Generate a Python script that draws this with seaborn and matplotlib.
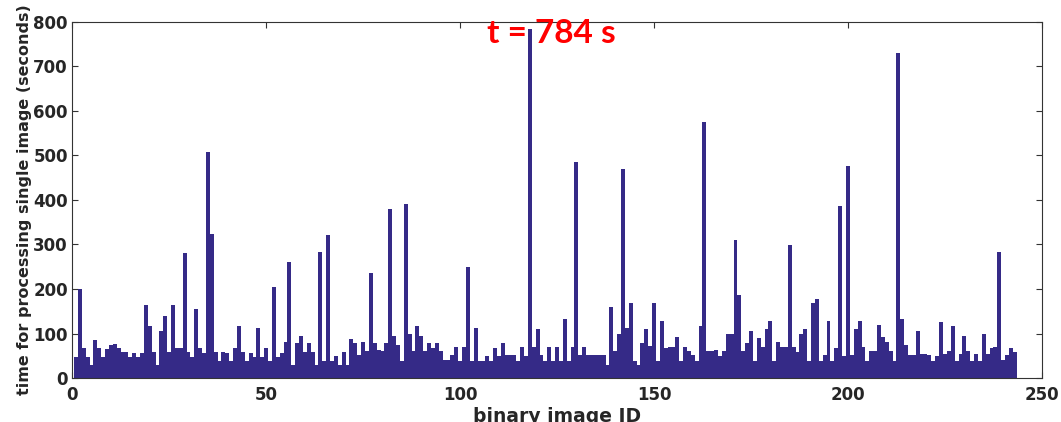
import matplotlib
matplotlib.use('Agg')
import matplotlib.pyplot as plt
import seaborn as sns
import pandas as pd

# processing time per binary image (seconds)
times = [47, 200, 67, 47, 29, 86, 67, 47, 65, 75,
         77, 67, 58, 58, 48, 57, 48, 57, 165, 116,
         58, 29, 106, 140, 58, 165, 67, 67, 281, 58,
         48, 155, 67, 57, 507, 324, 58, 39, 58, 57,
         39, 68, 116, 58, 39, 57, 48, 112, 48, 68,
         39, 205, 48, 57, 80, 260, 29, 78, 95, 58,
         79, 58, 30, 284, 39, 320, 39, 49, 30, 58,
         30, 88, 79, 52, 80, 60, 236, 79, 64, 60,
         79, 380, 94, 75, 39, 390, 100, 60, 118, 94,
         60, 79, 67, 79, 60, 41, 41, 52, 70, 39,
         70, 250, 39, 112, 39, 39, 50, 39, 67, 50,
         79, 52, 52, 52, 39, 70, 50, 784, 70, 110,
         52, 39, 70, 39, 70, 39, 133, 39, 70, 484,
         52, 70, 52, 52, 52, 52, 52, 30, 160, 60,
         98, 469, 113, 168, 39, 30, 79, 110, 72, 168,
         39, 128, 67, 70, 70, 92, 39, 70, 60, 52,
         39, 117, 574, 60, 60, 62, 50, 60, 100, 98,
         310, 187, 60, 79, 106, 39, 90, 69, 110, 128,
         39, 81, 70, 70, 298, 70, 58, 100, 110, 39,
         168, 178, 39, 52, 128, 39, 67, 387, 50, 475,
         52, 110, 128, 70, 39, 60, 60, 120, 92, 81,
         60, 39, 730, 133, 74, 52, 52, 106, 55, 54,
         52, 39, 50, 125, 55, 60, 118, 39, 55, 95,
         60, 39, 55, 39, 100, 55, 67, 70, 282, 41,
         52, 67, 58]
image_ids = list(range(1, len(times) + 1))
x_ticks = [0, 50, 100, 150, 200, 250]
y_ticks = [0, 100, 200, 300, 400, 500, 600, 700, 800]

df = pd.DataFrame({'image_id': image_ids, 'seconds': times})

sns.set_style('ticks')
plt.rcParams['font.family'] = ['DejaVu Sans']

fig = plt.figure(figsize=(10.61, 4.22), dpi=100)
ax = fig.add_axes([0.068, 0.104, 0.914, 0.845])

sns.barplot(data=df, x='image_id', y='seconds', native_scale=True, width=1,
            color='#352A87', saturation=1, errorbar=None,
            edgecolor='none', linewidth=0, ax=ax)

ax.set_xlim(0, 250)
ax.set_ylim(0, 800)
ax.set_xticks(x_ticks)
ax.set_yticks(y_ticks)
ax.tick_params(direction='in', top=True, right=True, length=4, width=0.8,
               color='#333333', labelsize=12, labelcolor='#262626')
ax.tick_params(axis='x', pad=6)
ax.tick_params(axis='y', pad=3)
for lab in ax.get_xticklabels() + ax.get_yticklabels():
    lab.set_fontweight('bold')
for sp in ax.spines.values():
    sp.set_visible(True)
    sp.set_color('#333333')
    sp.set_linewidth(0.8)

ax.set_xlabel('binary image ID', fontsize=13.5, fontweight='bold',
              color='#262626', labelpad=2)
ax.set_ylabel('time for processing single image (seconds)', fontsize=11.5,
              fontweight='bold', color='#262626', labelpad=1)

fig.text(0.52, 0.898, 't = 784 s', color='#FF0000', fontsize=24,
         fontweight='bold', family=['Lato', 'DejaVu Sans'],
         ha='center', va='baseline')

fig.savefig('out.png', dpi=100)
